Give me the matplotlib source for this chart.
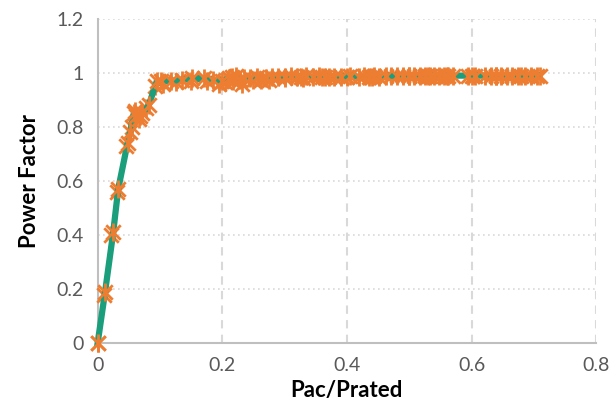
import matplotlib
matplotlib.use("Agg")
import matplotlib.pyplot as plt
from matplotlib.path import Path

# Series A (thick line)
xa = [0.0, 0.012, 0.025, 0.033, 0.048, 0.052, 0.058, 0.062, 0.066, 0.072, 0.082, 0.095,
      0.102, 0.118, 0.135, 0.152, 0.17, 0.185, 0.2, 0.21, 0.215, 0.222, 0.228, 0.235,
      0.245, 0.255, 0.262, 0.27, 0.28, 0.29, 0.3, 0.31, 0.32, 0.327, 0.335, 0.345,
      0.355, 0.365, 0.372, 0.38, 0.39, 0.405, 0.42, 0.428, 0.435, 0.443, 0.452, 0.462,
      0.48, 0.49, 0.5, 0.508, 0.517, 0.525, 0.533, 0.54, 0.548, 0.555, 0.562, 0.57,
      0.595, 0.605, 0.622, 0.632, 0.64, 0.648, 0.657, 0.665, 0.675, 0.685, 0.695, 0.705]
ya = [0.0, 0.19, 0.41, 0.57, 0.74, 0.78, 0.85, 0.84, 0.83, 0.85, 0.88, 0.97,
      0.97, 0.97, 0.975, 0.98, 0.98, 0.975, 0.97, 0.98, 0.985, 0.99, 0.975, 0.98,
      0.98, 0.985, 0.975, 0.98, 0.985, 0.985, 0.985, 0.99, 0.985, 0.985, 0.99, 0.985,
      0.99, 0.985, 0.985, 0.985, 0.985, 0.99, 0.985, 0.99, 0.985, 0.99, 0.985, 0.99,
      0.99, 0.99, 0.99, 0.99, 0.99, 0.99, 0.99, 0.99, 0.99, 0.99, 0.99, 0.99,
      0.99, 0.99, 0.99, 0.99, 0.99, 0.99, 0.99, 0.99, 0.99, 0.99, 0.99, 0.99]

# Series B (thin line)
xb = [0.0, 0.01, 0.022, 0.031, 0.046, 0.055, 0.06, 0.068, 0.078, 0.092, 0.105, 0.125,
      0.15, 0.175, 0.195, 0.205, 0.218, 0.232, 0.25, 0.275, 0.3, 0.33, 0.36, 0.4,
      0.44, 0.47, 0.5, 0.53, 0.56, 0.6, 0.64, 0.68, 0.71]
yb = [0.0, 0.18, 0.40, 0.56, 0.73, 0.80, 0.86, 0.84, 0.87, 0.95, 0.96, 0.965,
      0.97, 0.97, 0.96, 0.965, 0.97, 0.96, 0.975, 0.975, 0.98, 0.98, 0.985, 0.985,
      0.985, 0.99, 0.99, 0.99, 0.99, 0.99, 0.99, 0.99, 0.99]

xticks = [0, 0.2, 0.4, 0.6, 0.8]
xticklabels = ["0", "0.2", "0.4", "0.6", "0.8"]
yticks = [0, 0.2, 0.4, 0.6, 0.8, 1.0, 1.2]
yticklabels = ["0", "0.2", "0.4", "0.6", "0.8", "1", "1.2"]

green = "#1a9e7c"
orange = "#ed7d31"

star = Path([(-1, -1), (1, 1), (-1, 1), (1, -1), (0, -1.25), (0, 1.25)],
            [Path.MOVETO, Path.LINETO, Path.MOVETO, Path.LINETO, Path.MOVETO, Path.LINETO])

plt.rcParams['font.family'] = ['Lato', 'DejaVu Sans']
fig = plt.figure(figsize=(6.14, 4.19), dpi=100)
ax = fig.add_axes([0.159, 0.181, 0.812, 0.774])

ax.plot(xb, yb, color=green, lw=1.5, marker=star, markersize=13, markeredgewidth=2,
        markeredgecolor=orange, markerfacecolor=orange, clip_on=False, zorder=3)
ax.plot(xa, ya, color=green, lw=4.5, marker=star, markersize=13, markeredgewidth=2,
        markeredgecolor=orange, markerfacecolor=orange, clip_on=False, zorder=4)

ax.set_xlim(0, 0.8)
ax.set_ylim(0, 1.2)
ax.set_xticks(xticks)
ax.set_xticklabels(xticklabels)
ax.set_yticks(yticks)
ax.set_yticklabels(yticklabels)

for v in yticks[1:]:
    ax.axhline(v, color="#d9d9d9", lw=1.2, ls=(0, (1, 2)), zorder=0)
for v in xticks[1:]:
    ax.axvline(v, color="#d9d9d9", lw=1.5, ls=(0, (4, 3)), zorder=0)

for s in ["top", "right"]:
    ax.spines[s].set_visible(False)
for s in ["left", "bottom"]:
    ax.spines[s].set_color("#bfbfbf")
    ax.spines[s].set_linewidth(1.5)

ax.tick_params(length=0, labelsize=14, labelcolor="#595959", pad=10)
ax.set_xlabel("Pac/Prated", fontsize=16, fontweight="bold", labelpad=4)
ax.set_ylabel("Power Factor", fontsize=16, fontweight="bold", labelpad=12)

fig.savefig("out.png", dpi=100)
